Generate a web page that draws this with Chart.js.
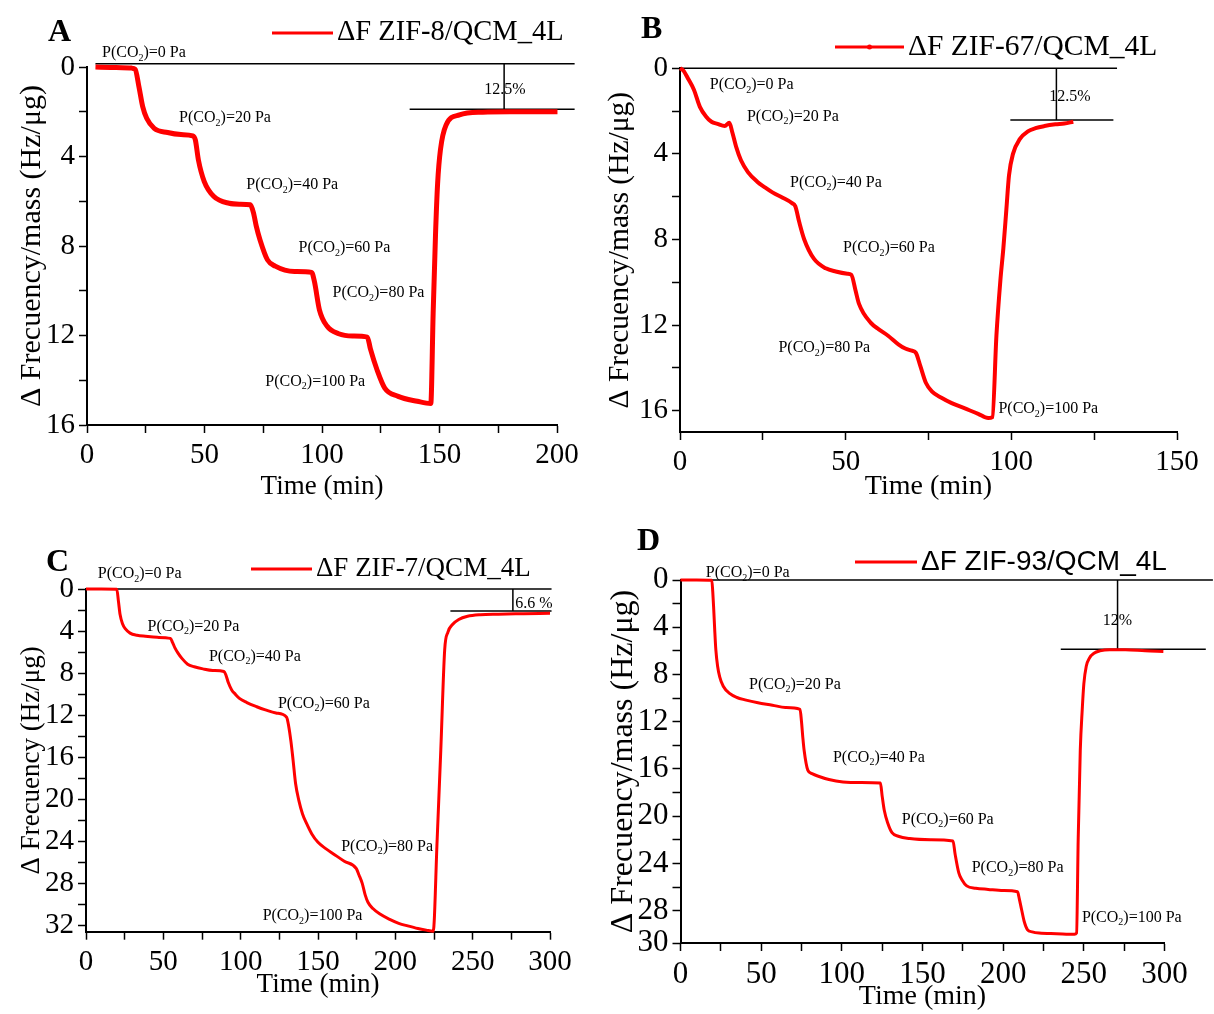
<!DOCTYPE html>
<html>
<head>
<meta charset="utf-8">
<title>QCM CO2 response of ZIF films</title>
<script src="https://cdn.jsdelivr.net/npm/chart.js@4.4.1/dist/chart.umd.min.js"></script>
<style>
  body { margin: 0; background: #fff; }
  #wrap { position: relative; width: 1214px; height: 1014px; }
  #wrap canvas { position: absolute; left: 0; top: 0; }
</style>
</head>
<body>
<div id="wrap">
  <canvas id="chartA" width="1214" height="1014"></canvas>
  <canvas id="chartB" width="1214" height="1014"></canvas>
  <canvas id="chartC" width="1214" height="1014"></canvas>
  <canvas id="chartD" width="1214" height="1014"></canvas>
</div>
<script>
// CO2 partial pressure steps (Pa), same for every panel
const pressures = [0, 20, 40, 60, 80, 100];

// [time (min), delta frequency (Hz/ug)]
const seriesA = [
  [3.6, 0], [10, 0.02], [15, 0.03], [19, 0.05], [20.5, 0.1], [22.1, 0.88], [23.7, 1.77], [25.4, 2.29],
  [28.6, 2.74], [34.3, 2.93], [40, 3.02], [45, 3.08], [46.1, 3.26], [47.4, 4.15], [49.9, 5.12],
  [54, 5.79], [60.5, 6.09], [65, 6.13], [69.5, 6.16], [70.8, 6.5], [72, 7.1], [73.6, 7.72], [76.8, 8.62],
  [80.1, 8.9], [88.3, 9.14], [95.6, 9.18], [96.8, 9.6], [98.9, 10.85], [102.2, 11.59], [107.1, 11.92],
  [113, 12.02], [119.3, 12.07], [120.6, 12.6], [123.4, 13.53], [126.7, 14.35], [132.4, 14.72],
  [140.6, 14.94], [146.3, 15.04], [147.3, 11], [148.3, 7.5], [149.2, 5.2], [150.4, 3.7], [152.8, 2.59],
  [158.5, 2.14], [168.4, 2.02], [180, 2.0], [190, 2.0], [200.2, 2.0]
];
const seriesB = [
  [0, 0], [1, 0.1], [2.5, 0.5], [4.2, 1.0], [6, 1.8], [7.9, 2.26], [9.5, 2.5], [11.3, 2.6], [13.5, 2.7],
  [14.9, 2.55], [15.8, 3.0], [17, 3.7], [18.4, 4.3], [20.5, 4.85], [23.3, 5.3], [25.5, 5.55], [27.9, 5.8],
  [31, 6.05], [33.8, 6.3], [34.8, 6.45], [36, 7.2], [37.5, 8.0], [40.4, 8.9], [44, 9.35], [47, 9.5],
  [50.5, 9.6], [51.7, 9.65], [53, 10.4], [54, 11.0], [57.6, 11.9], [60, 12.2], [62.8, 12.5], [65.9, 12.9],
  [68, 13.1], [70, 13.2], [71.2, 13.3], [72.5, 13.9], [74.2, 14.7], [76, 15.1], [78.9, 15.4], [82, 15.65],
  [86, 15.9], [90, 16.15], [93, 16.35], [94.3, 16.3], [95.5, 12.5], [96.7, 9.9], [97.6, 8.4], [98.5, 6.6],
  [99.3, 5.0], [100.5, 4.0], [102.6, 3.3], [105, 2.95], [107.3, 2.8], [110, 2.7], [113.3, 2.62],
  [116, 2.58], [118.7, 2.5]
];
const seriesC = [
  [0, 0], [10, 0], [19.9, 0.02], [21, 1.2], [22, 2.4], [23.6, 3.3], [25.5, 3.8], [28.5, 4.2], [33, 4.4],
  [38.4, 4.5], [46, 4.6], [54.6, 4.7], [56, 5.1], [57.5, 5.6], [59.5, 6.1], [62, 6.6], [65.7, 7.15],
  [70, 7.4], [75.6, 7.6], [82, 7.75], [89.2, 7.85], [90.5, 8.2], [92, 8.9], [94.2, 9.6], [96.5, 10.0],
  [99.2, 10.4], [104, 10.8], [110.4, 11.2], [116, 11.5], [122.8, 11.8], [129.7, 12.2], [131, 13],
  [132.5, 14.5], [133.9, 16.3], [135.5, 18.5], [137.6, 20.1], [140, 21.4], [142.6, 22.3], [146, 23.3],
  [150, 24.1], [155, 24.7], [160, 25.2], [167, 25.9], [174.8, 26.6], [176.5, 27.2], [178.6, 28.0],
  [180.5, 29.1], [182.3, 29.8], [185.5, 30.4], [189.8, 30.9], [196, 31.4], [202.2, 31.8], [208, 32.05],
  [214.6, 32.3], [220, 32.45], [224.5, 32.55], [227, 24], [229.4, 15.3], [231.9, 5.8], [234, 4.1],
  [236.8, 3.4], [241, 2.9], [246.7, 2.6], [255, 2.45], [266.6, 2.4], [283, 2.35], [300, 2.3]
];
const seriesD = [
  [0, 0], [10, 0], [19.4, 0.02], [20, 1.0], [20.6, 2.5], [21.2, 4.2], [21.9, 5.9], [23, 7.3], [24.3, 8.2],
  [26.5, 9.0], [30.4, 9.6], [35, 9.95], [40, 10.15], [48, 10.4], [57, 10.6], [65, 10.8], [74.1, 10.95],
  [75, 12.0], [75.8, 13.3], [76.6, 14.4], [78.9, 16.1], [81.5, 16.4], [85, 16.6], [92, 16.9], [100.7, 17.1],
  [112, 17.15], [123.9, 17.2], [125, 18.3], [126.3, 19.5], [128.5, 20.6], [131.1, 21.4], [135, 21.7],
  [142.1, 21.9], [155, 22.0], [168.9, 22.1], [170.2, 23.2], [172.5, 24.8], [174.5, 25.4], [177.4, 25.9],
  [183, 26.1], [190.7, 26.2], [200, 26.3], [208.9, 26.4], [210, 27.0], [211.4, 27.9], [213, 28.9],
  [215, 29.6], [218, 29.8], [222.3, 29.9], [233, 29.95], [244.2, 30.0], [245.5, 29.9], [246.5, 22],
  [247.8, 14.4], [249, 11.0], [250, 8.8], [251.5, 7.3], [253.5, 6.6], [256.3, 6.2], [260, 6.0],
  [266, 5.9], [275.8, 5.9], [288, 6.0], [299.3, 6.05]
];

// black guide lines: baseline, recovered level, and the bracket between them
const guidesA = [[[3.6, -0.15], [207.5, -0.15]], [[137.3, 1.89], [207.5, 1.89]], [[177.5, -0.15], [177.5, 1.89]]];
const guidesB = [[[0, 0], [131.9, 0]], [[99.7, 2.42], [130.8, 2.42]], [[113.6, 0], [113.6, 2.42]]];
const guidesC = [[[0, 0], [301, 0]], [[235.6, 2.1], [301, 2.1]], [[276, 0], [276, 2.1]]];
const guidesD = [[[0, 0], [330, 0]], [[235.7, 5.86], [325.6, 5.86]], [[270.9, 0], [270.9, 5.86]]];

const recoveryA = '12.5%';
const recoveryB = '12.5%';
const recoveryC = '6.6 %';
const recoveryD = '12%';

// ticks (minor ticks carry an empty label)
const xTicksA = [0, 25, 50, 75, 100, 125, 150, 175, 200];
const xLabelsA = ['0', '', '50', '', '100', '', '150', '', '200'];
const xTicksB = [0, 25, 50, 75, 100, 125, 150];
const xLabelsB = ['0', '', '50', '', '100', '', '150'];
const xTicksCD = [0, 25, 50, 75, 100, 125, 150, 175, 200, 225, 250, 275, 300];
const xLabelsCD = ['0', '', '50', '', '100', '', '150', '', '200', '', '250', '', '300'];
const yTicksAB = [0, 2, 4, 6, 8, 10, 12, 14, 16];
const yLabelsAB = ['0', '', '4', '', '8', '', '12', '', '16'];
const yTicksC = [0, 2, 4, 6, 8, 10, 12, 14, 16, 18, 20, 22, 24, 26, 28, 30, 32];
const yLabelsC = ['0', '', '4', '', '8', '', '12', '', '16', '', '20', '', '24', '', '28', '', '32'];
const yTicksD = [0, 2, 4, 6, 8, 10, 12, 14, 16, 18, 20, 22, 24, 26, 28, 30.74];
const yLabelsD = ['0', '', '4', '', '8', '', '12', '', '16', '', '20', '', '24', '', '28', '30'];

const W = 1214, H = 1014;
const SERIF = '"Liberation Serif", "Times New Roman", serif';
const SANS = '"Liberation Sans", Arial, sans-serif';
Chart.defaults.font.family = SERIF;
Chart.defaults.color = '#000';

function pts(list) {
  return list.map(([x, y]) => ({ x, y }));
}

// "P(CO2)=20 Pa" with a subscript 2
function drawPressure(ctx, p, x, y) {
  ctx.font = '16px ' + SERIF;
  ctx.fillText('P(CO', x, y);
  x += ctx.measureText('P(CO').width;
  ctx.font = '10px ' + SERIF;
  ctx.fillText('2', x, y + 5);
  x += ctx.measureText('2').width;
  ctx.font = '16px ' + SERIF;
  ctx.fillText(')=' + p + ' Pa', x, y);
}

function makeDecor(p) {
  return {
    id: 'decor',
    afterDraw(chart) {
      const ctx = chart.ctx;
      const xs = chart.scales.x, ys = chart.scales.y;
      ctx.save();
      ctx.fillStyle = '#000';
      ctx.textBaseline = 'middle';
      ctx.textAlign = 'left';

      ctx.font = 'bold 32px ' + SERIF;
      ctx.fillText(p.letter, p.letterAt[0], p.letterAt[1]);

      // legend
      const lg = p.legend;
      ctx.strokeStyle = '#ff0000';
      ctx.lineWidth = 3;
      ctx.beginPath();
      ctx.moveTo(lg.x1, lg.y);
      ctx.lineTo(lg.x2, lg.y);
      ctx.stroke();
      if (lg.dot) {
        ctx.fillStyle = '#ff0000';
        ctx.beginPath();
        ctx.arc((lg.x1 + lg.x2) / 2, lg.y, 2.5, 0, Math.PI * 2);
        ctx.fill();
        ctx.fillStyle = '#000';
      }
      ctx.font = lg.size + 'px ' + lg.family;
      ctx.fillText(p.label, lg.x2 + 4, lg.y);

      p.notes.forEach(([t, v], i) => {
        drawPressure(ctx, pressures[i], xs.getPixelForValue(t), ys.getPixelForValue(v));
      });

      ctx.textAlign = 'center';
      ctx.font = '16px ' + SERIF;
      ctx.fillText(p.recovery, xs.getPixelForValue(p.recoveryAt[0]), ys.getPixelForValue(p.recoveryAt[1]));
      ctx.restore();
    }
  };
}

function makePanel(p) {
  const yLH = p.yTitleSize * 1.2, xLH = p.xTitleSize * 1.2;
  const padLeft = p.yTitleX - yLH / 2 - 2;
  const yW = p.area.left - padLeft;
  const boxBottom = p.xTitleY + xLH / 2 + 2;
  const xH = boxBottom - p.area.bottom;

  const datasets = [{
    label: p.label,
    data: pts(p.series),
    borderColor: '#ff0000',
    borderWidth: p.lineWidth,
    pointRadius: 0,
    cubicInterpolationMode: 'monotone',
    clip: false
  }];
  p.guides.forEach(g => datasets.push({
    data: pts(g),
    borderColor: '#000',
    borderWidth: 1.5,
    pointRadius: 0,
    clip: false
  }));

  new Chart(document.getElementById(p.id), {
    type: 'line',
    data: { datasets },
    options: {
      responsive: false,
      animation: false,
      events: [],
      layout: { padding: { left: padLeft, top: p.area.top, right: W - p.area.right, bottom: H - boxBottom } },
      plugins: { legend: { display: false }, tooltip: { enabled: false } },
      scales: {
        x: {
          type: 'linear',
          min: 0,
          max: p.xMax,
          afterBuildTicks: s => { s.ticks = p.xTicks.map(v => ({ value: v })); },
          afterFit: s => { s.height = xH; },
          ticks: {
            callback: (v, i) => p.xLabels[i],
            font: { size: p.tickSize },
            color: '#000',
            padding: 5,
            maxRotation: 0,
            autoSkip: false
          },
          grid: { drawOnChartArea: false, tickLength: 8, tickColor: '#000', tickWidth: 1.5 },
          border: { color: '#000', width: 2 },
          title: { display: true, text: 'Time (min)', font: { size: p.xTitleSize }, color: '#000', padding: { top: 0, bottom: 2 } }
        },
        y: {
          type: 'linear',
          reverse: true,
          min: 0,
          max: p.yMax,
          afterBuildTicks: s => { s.ticks = p.yTicks.map(v => ({ value: v })); },
          afterFit: s => { s.width = yW; },
          ticks: {
            callback: (v, i) => p.yLabels[i],
            font: { size: p.tickSize },
            color: '#000',
            padding: 4,
            autoSkip: false
          },
          grid: { drawOnChartArea: false, tickLength: 8, tickColor: '#000', tickWidth: 1.5 },
          border: { color: '#000', width: 2 },
          title: { display: true, text: p.yTitle, font: { size: p.yTitleSize }, color: '#000', padding: { top: 2, bottom: 0 } }
        }
      }
    },
    plugins: [makeDecor(p)]
  });
}

makePanel({
  id: 'chartA', letter: 'A', letterAt: [48, 33],
  label: 'ΔF ZIF-8/QCM_4L', legend: { x1: 272, x2: 333, y: 33, size: 28.5, family: SERIF },
  series: seriesA, guides: guidesA, lineWidth: 5,
  recovery: recoveryA, recoveryAt: [177.8, 1.03],
  notes: [[6.4, -0.62], [39.2, 2.29], [67.8, 5.27], [90, 8.1], [104.5, 10.1], [75.9, 14.05]],
  area: { left: 87, right: 557, top: 67, bottom: 425 },
  xMax: 200, yMax: 16,
  xTicks: xTicksA, xLabels: xLabelsA, yTicks: yTicksAB, yLabels: yLabelsAB,
  yTitle: 'Δ Frecuency/mass (Hz/μg)', yTitleX: 32, yTitleSize: 30,
  xTitleY: 487, xTitleSize: 27, tickSize: 29
});

makePanel({
  id: 'chartB', letter: 'B', letterAt: [641, 30],
  label: 'ΔF ZIF-67/QCM_4L', legend: { x1: 835, x2: 904, y: 47, size: 29.5, family: SERIF, dot: true },
  series: seriesB, guides: guidesB, lineWidth: 4,
  recovery: recoveryB, recoveryAt: [117.7, 1.33],
  notes: [[9.0, 0.78], [20.2, 2.26], [33.2, 5.35], [49.2, 8.41], [29.7, 13.08], [96.1, 15.93]],
  area: { left: 680, right: 1177, top: 68.3, bottom: 432 },
  xMax: 150, yMax: 17,
  xTicks: xTicksB, xLabels: xLabelsB, yTicks: yTicksAB, yLabels: yLabelsAB,
  yTitle: 'Δ Frecuency/mass (Hz/μg)', yTitleX: 620, yTitleSize: 29.5,
  xTitleY: 487, xTitleSize: 28, tickSize: 29
});

makePanel({
  id: 'chartC', letter: 'C', letterAt: [46, 563],
  label: 'ΔF ZIF-7/QCM_4L', legend: { x1: 251, x2: 312, y: 569, size: 27, family: SERIF },
  series: seriesC, guides: guidesC, lineWidth: 3,
  recovery: recoveryC, recoveryAt: [289.6, 1.43],
  notes: [[7.6, -1.4], [39.8, 3.59], [79.5, 6.45], [124.1, 10.9], [165, 24.5], [114.2, 31.1]],
  area: { left: 86, right: 550, top: 589, bottom: 931.7 },
  xMax: 300, yMax: 32.6,
  xTicks: xTicksCD, xLabels: xLabelsCD, yTicks: yTicksC, yLabels: yLabelsC,
  yTitle: 'Δ Frecuency (Hz/μg)', yTitleX: 32, yTitleSize: 27,
  xTitleY: 985, xTitleSize: 27, tickSize: 29
});

makePanel({
  id: 'chartD', letter: 'D', letterAt: [637, 542],
  label: 'ΔF ZIF-93/QCM_4L', legend: { x1: 855, x2: 917, y: 562, size: 28, family: SANS },
  series: seriesD, guides: guidesD, lineWidth: 3,
  recovery: recoveryD, recoveryAt: [270.8, 3.46],
  notes: [[15.7, -0.57], [42.5, 8.88], [94.5, 15.06], [137.2, 20.3], [180.5, 24.4], [248.8, 28.6]],
  area: { left: 680.5, right: 1164.5, top: 580, bottom: 943 },
  xMax: 300, yMax: 30.74,
  xTicks: xTicksCD, xLabels: xLabelsCD, yTicks: yTicksD, yLabels: yLabelsD,
  yTitle: 'Δ Frecuency/mass (Hz/μg)', yTitleX: 624, yTitleSize: 32,
  xTitleY: 997, xTitleSize: 28, tickSize: 31
});
</script>
</body>
</html>
